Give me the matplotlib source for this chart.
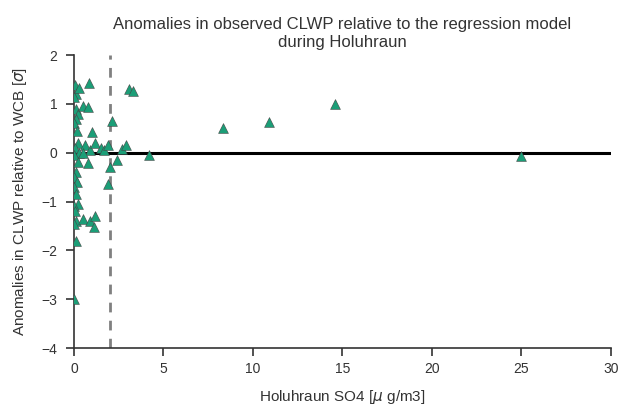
import matplotlib
matplotlib.use("Agg")
import matplotlib.pyplot as plt

so4 = [0.05, 0.1, 0.0, 0.3, 0.1, 0.2, 0.1, 0.0, 0.15, 0.2, 0.05, 0.3, 0.0, 0.2,
       0.1, 0.0, 0.15, 0.0, 0.1, 0.2, 0.0, 0.05, 0.1, 0.0, 0.1, 0.0,
       0.5, 0.8, 0.85, 0.6, 1.0, 0.9, 0.5, 0.8, 0.5, 0.9, 1.1, 1.2, 1.2, 1.5,
       1.7, 1.9, 2.0, 1.9, 2.1, 2.4, 2.7, 2.9, 3.1, 3.3, 4.2, 8.3, 10.9, 14.6, 25.0]
anom = [1.38, 1.2, 1.15, 1.32, 0.9, 0.8, 0.7, 0.6, 0.45, 0.2, 0.1, 0.0, -0.05, -0.2,
        -0.4, -0.5, -0.6, -0.7, -0.85, -1.05, -1.1, -1.2, -1.4, -1.45, -1.8, -3.0,
        0.95, 0.93, 1.42, 0.15, 0.42, 0.05, 0.0, -0.22, -1.35, -1.4, -1.52, -1.3, 0.2, 0.1,
        0.05, 0.15, -0.3, -0.65, 0.65, -0.15, 0.08, 0.15, 1.3, 1.27, -0.05, 0.5, 0.62, 1.0, -0.07]
threshold = 2.0

plt.rcParams['font.family'] = ['Liberation Sans', 'DejaVu Sans']
fig = plt.figure(figsize=(6.19, 4.08), dpi=100)
ax = fig.add_axes([0.1196, 0.147, 0.867, 0.718])

ax.axhline(0, color='black', lw=2.2, zorder=2)
ax.axvline(threshold, color='gray', lw=2, ls=(0, (3.5, 3)), zorder=1)
ax.scatter(so4, anom, marker='^', s=50, color='#1b9e77', edgecolor='#444444',
           linewidth=0.4, zorder=3)

ax.set_xlim(0, 30)
ax.set_ylim(-4, 2)
ax.set_xticks(range(0, 31, 5))
ax.set_yticks(range(-4, 3))
for s in ['top', 'right']:
    ax.spines[s].set_visible(False)
for s in ['left', 'bottom']:
    ax.spines[s].set_color('#333333')
    ax.spines[s].set_linewidth(1.2)
ax.tick_params(direction='out', length=6, width=1.2, color='#333333',
               labelsize=10, labelcolor='#333333')
ax.tick_params(axis='y', pad=6)
ax.tick_params(axis='x', pad=4)
ax.set_xlabel(r'Holuhraun SO4 [$\mu$ g/m3]', fontsize=11, color='#333333', labelpad=9)
ax.set_ylabel(r'Anomalies in CLWP relative to WCB [$\sigma$]', fontsize=11, color='#333333',
              labelpad=9)
ax.set_title('Anomalies in observed CLWP relative to the regression model\nduring Holuhraun',
             fontsize=12, color='#333333')

fig.savefig('out.png', dpi=100)
